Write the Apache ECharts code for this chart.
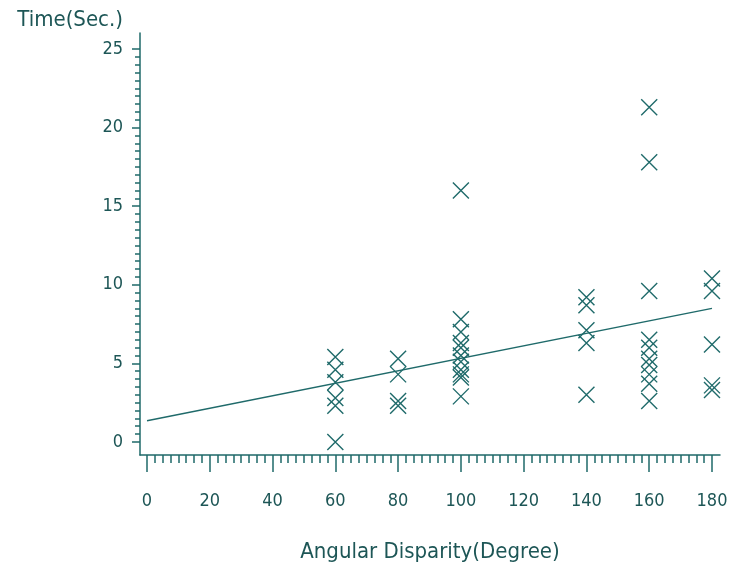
<!DOCTYPE html>
<html>
<head>
<meta charset="utf-8">
<script src="https://cdn.jsdelivr.net/npm/echarts@6/dist/echarts.min.js"></script>
<style>
  html, body { margin: 0; padding: 0; background: #fff; }
</style>
</head>
<body>
<div id="myChart" style="width: 730px; height: 574px;"></div>
<script>
  let angles60 = [60, 60, 60, 60, 60, 60];
  let times60 = [5.4, 4.6, 3.8, 2.8, 2.3, 0.0];
  let angles80 = [80, 80, 80, 80];
  let times80 = [5.3, 4.3, 2.6, 2.3];
  let angles100 = [100, 100, 100, 100, 100, 100, 100, 100, 100, 100, 100];
  let times100 = [16.0, 7.8, 7.0, 6.3, 6.0, 5.5, 5.1, 4.6, 4.3, 4.1, 2.9];
  let angles140 = [140, 140, 140, 140, 140];
  let times140 = [9.2, 8.7, 7.1, 6.3, 3.0];
  let angles160 = [160, 160, 160, 160, 160, 160, 160, 160, 160, 160];
  let times160 = [21.3, 17.8, 9.6, 6.5, 6.0, 5.3, 4.9, 4.3, 3.7, 2.6];
  let angles180 = [180, 180, 180, 180, 180];
  let times180 = [10.4, 9.6, 6.2, 3.6, 3.3];

  // fitted line end points
  let fitX = [0, 180];
  let fitY = [1.35, 8.5];

  let xLabels = [0, 20, 40, 60, 80, 100, 120, 140, 160, 180];
  let yLabels = [0, 5, 10, 15, 20, 25];

  const ink = '#1f6a6a';
  const txt = '#1d5656';
  const font = "'DejaVu Sans Condensed', 'Liberation Sans', sans-serif";

  let xMinor = [];
  for (let v = 0; v <= 180; v += 2.5) xMinor.push(v);
  let yMinor = [];
  for (let v = 0; v <= 25.01; v += 0.5) yMinor.push(+v.toFixed(1));

  let points = [];
  [[angles60, times60], [angles80, times80], [angles100, times100],
   [angles140, times140], [angles160, times160], [angles180, times180]].forEach(function (g) {
    g[0].forEach(function (a, i) { points.push([a, g[1][i]]); });
  });
  let fit = fitX.map(function (x, i) { return [x, fitY[i]]; });

  let myChart = echarts.init(document.getElementById('myChart'));
  let xRange = { min: -2.23, max: 182.55 };
  let yRange = { min: -0.83, max: 26.02 };

  let options = {
    animation: false,
    grid: { left: 140, right: 10, top: 33, bottom: 119, outerBoundsMode: 'none', containLabel: false },
    xAxis: [{
      type: 'value', position: 'bottom',
      min: xRange.min, max: xRange.max,
      name: 'Angular Disparity(Degree)',
      nameLocation: 'middle', nameGap: 86,
      nameTextStyle: { color: txt, fontSize: 22, fontFamily: font },
      axisLine: { onZero: false, lineStyle: { color: ink, width: 1.5 } },
      axisTick: { customValues: xLabels, length: 17, lineStyle: { color: ink, width: 1.5 } },
      axisLabel: { customValues: xLabels, color: txt, fontSize: 18, fontFamily: font, margin: 37 },
      splitLine: { show: false }
    }, {
      type: 'value', position: 'bottom',
      min: xRange.min, max: xRange.max,
      axisLine: { show: false, onZero: false },
      axisTick: { customValues: xMinor, length: 8, lineStyle: { color: ink, width: 1.5 } },
      axisLabel: { show: false },
      splitLine: { show: false }
    }],
    yAxis: [{
      type: 'value', position: 'left',
      min: yRange.min, max: yRange.max,
      name: 'Time(Sec.)',
      nameLocation: 'end', nameGap: 2,
      nameTextStyle: { color: txt, fontSize: 22, fontFamily: font, align: 'right', padding: [0, 17, 0, 0] },
      axisLine: { onZero: false, lineStyle: { color: ink, width: 1.5 } },
      axisTick: { customValues: yLabels, length: 8, lineStyle: { color: ink, width: 1.5 } },
      axisLabel: { customValues: yLabels, color: txt, fontSize: 18, fontFamily: font, margin: 17 },
      splitLine: { show: false }
    }, {
      type: 'value', position: 'left',
      min: yRange.min, max: yRange.max,
      axisLine: { show: false, onZero: false },
      axisTick: { customValues: yMinor, length: 5, lineStyle: { color: ink, width: 1.5 } },
      axisLabel: { show: false },
      splitLine: { show: false }
    }],
    series: [{
      name: 'obs',
      type: 'scatter',
      xAxisIndex: 0, yAxisIndex: 0,
      symbol: 'path://M0,0L10,10M10,0L0,10',
      symbolSize: [16, 16],
      itemStyle: { color: 'transparent', borderColor: ink, borderWidth: 1.4, opacity: 1 },
      data: points
    }, {
      name: 'fit',
      type: 'line',
      xAxisIndex: 0, yAxisIndex: 0,
      symbol: 'none',
      lineStyle: { color: ink, width: 1.5 },
      data: fit
    }]
  };
  myChart.setOption(options);
</script>
</body>
</html>
